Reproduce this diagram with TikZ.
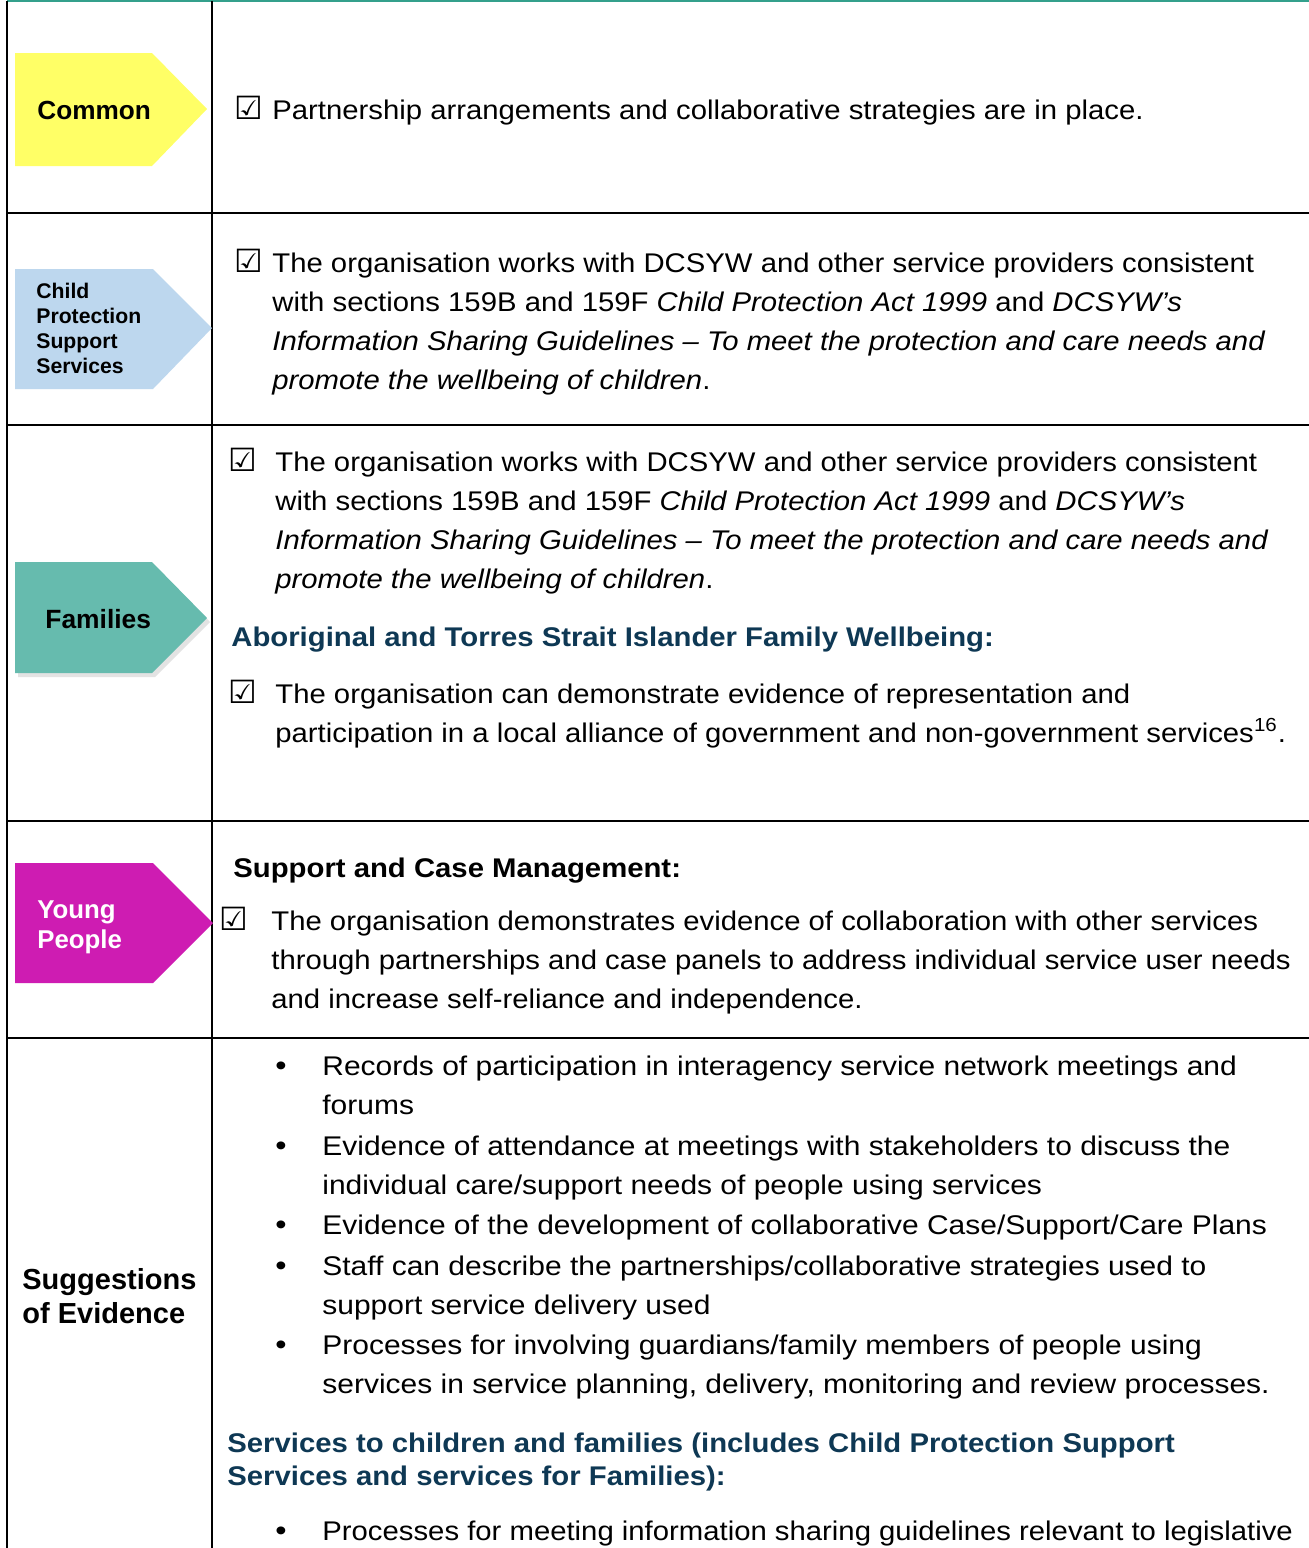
\documentclass[tikz,border=0pt]{standalone}
\usepackage{fontspec}
\setmainfont{Liberation Sans}
\newfontfamily\rowfont{Liberation Sans}[FakeStretch=1.085]
\newfontfamily\evfont{Liberation Sans}[FakeStretch=1.11]
\newfontfamily\boxfont{DejaVu Sans}
\usetikzlibrary{shadows}

\definecolor{cmnyellow}{RGB}{255,255,102}
\definecolor{cpsblue}{RGB}{189,215,238}
\definecolor{famteal}{RGB}{102,187,174}
\definecolor{ypmagenta}{RGB}{206,28,178}
\definecolor{headblue}{RGB}{14,56,84}
\definecolor{topteal}{RGB}{52,160,140}

\tikzset{
  rowtxt/.style={anchor=base west, inner sep=0pt, font=\rowfont\fontsize{13.5pt}{19.5pt}\selectfont},
  evtxt/.style={anchor=base west, inner sep=0pt, font=\evfont\fontsize{13.5pt}{19.5pt}\selectfont},
  headtxt/.style={anchor=base west, inner sep=0pt, font=\rowfont\fontsize{13.5pt}{19.5pt}\selectfont\bfseries},
  tabtxt/.style={anchor=base west, inner sep=0pt, align=left},
  tickbox/.style={anchor=base west, inner sep=0pt, font=\boxfont\fontsize{16pt}{16pt}\selectfont},
  dotmark/.style={anchor=base west, inner sep=0pt, font=\evfont\fontsize{14.5pt}{19.5pt}\selectfont},
  gridline/.style={line width=1pt, black}
}

\begin{document}
\begin{tikzpicture}[x=0.5pt,y=0.5pt,yscale=-1]
\useasboundingbox (0,0) rectangle (1309,1548);
\fill [white] (0,0) rectangle (1309,1548);

%Straight Lines: table frame
\draw [line width=1pt, topteal] (7,1) -- (1309,1);
\draw [gridline] (7,1) -- (7,1548);
\draw [gridline] (212,1) -- (212,1548);
\draw [gridline] (7,213) -- (1309,213);
\draw [gridline] (7,425) -- (1309,425);
\draw [gridline] (7,821) -- (1309,821);
\draw [gridline] (7,1038) -- (1309,1038);

%Shape: Pentagon arrows
\fill [cmnyellow] (15,53) -- (152,53) -- (207,109) -- (152,166) -- (15,166) -- cycle;
\fill [cpsblue] (15,269) -- (153,269) -- (212,328) -- (153,389) -- (15,389) -- cycle;
\fill [famteal, drop shadow={opacity=0.22, shadow xshift=1.5pt, shadow yshift=-2pt}] (15,562) -- (152,562) -- (207,618) -- (152,673) -- (15,673) -- cycle;
\fill [ypmagenta] (15,863) -- (153,863) -- (213,923) -- (153,983) -- (15,983) -- cycle;

% Text Node
\draw (37,119) node (common) [tabtxt, font=\fontsize{13.1pt}{15pt}\selectfont\bfseries] {Common};
% Text Node
\draw (36,373) node (cps) [tabtxt, font=\fontsize{10.6pt}{12.35pt}\selectfont\bfseries] {Child\\Protection\\Support\\Services};
% Text Node
\draw (45,628) node (families) [tabtxt, font=\fontsize{13.2pt}{15pt}\selectfont\bfseries] {Families};
% Text Node
\draw (37,948) node (young) [tabtxt, text=white, font=\fontsize{12.9pt}{15pt}\selectfont\bfseries] {Young\\People};
% Text Node
\draw (22,1323) node (sugg) [tabtxt, font=\fontsize{14.5pt}{17pt}\selectfont\bfseries] {Suggestions\\of Evidence};

% Text Node: common row
\draw (234,119) node (tickA) [tickbox] {☑};
\draw (272,119) node (partner) [rowtxt] {Partnership arrangements and collaborative strategies are in place.};

% Text Node: child protection row
\draw (234,272) node (tickB) [tickbox] {☑};
\draw (272,272) node (cpsA) [rowtxt] {The organisation works with DCSYW and other service providers consistent};
\draw (272,311) node (cpsB) [rowtxt] {with sections 159B and 159F \textit{Child Protection Act 1999} and \textit{DCSYW’s}};
\draw (272,350) node (cpsC) [rowtxt] {\textit{Information Sharing Guidelines – To meet the protection and care needs and}};
\draw (272,389) node (cpsD) [rowtxt] {\textit{promote the wellbeing of children}.};

% Text Node: families row
\draw (228,471) node (tickC) [tickbox] {☑};
\draw (275,471) node (famA) [rowtxt] {The organisation works with DCSYW and other service providers consistent};
\draw (275,510) node (famB) [rowtxt] {with sections 159B and 159F \textit{Child Protection Act 1999} and \textit{DCSYW’s}};
\draw (275,549) node (famC) [rowtxt] {\textit{Information Sharing Guidelines – To meet the protection and care needs and}};
\draw (275,588) node (famD) [rowtxt] {\textit{promote the wellbeing of children}.};
\draw (231,646) node (atsi) [headtxt, text=headblue] {Aboriginal and Torres Strait Islander Family Wellbeing:};
\draw (228,703) node (tickD) [tickbox] {☑};
\draw (275,703) node (famE) [rowtxt] {The organisation can demonstrate evidence of representation and};
\draw (275,742) node (famF) [rowtxt] {participation in a local alliance of government and non-government services\textsuperscript{16}.};

% Text Node: young people row
\draw (233,877) node (scm) [headtxt] {Support and Case Management:};
\draw (219,930) node (tickE) [tickbox] {☑};
\draw (271,930) node (ypA) [rowtxt] {The organisation demonstrates evidence of collaboration with other services};
\draw (271,969) node (ypB) [rowtxt] {through partnerships and case panels to address individual service user needs};
\draw (271,1008) node (ypC) [rowtxt] {and increase self-reliance and independence.};

% Text Node: suggestions of evidence
\foreach \yb in {1075,1155,1234,1275,1354,1540}
  \draw (275,\yb) node [dotmark] {\textbullet};
\draw (322,1075) node (evA) [evtxt] {Records of participation in interagency service network meetings and};
\draw (322,1114) node (evB) [evtxt] {forums};
\draw (322,1155) node (evC) [evtxt] {Evidence of attendance at meetings with stakeholders to discuss the};
\draw (322,1194) node (evD) [evtxt] {individual care/support needs of people using services};
\draw (322,1234) node (evE) [evtxt] {Evidence of the development of collaborative Case/Support/Care Plans};
\draw (322,1275) node (evF) [evtxt] {Staff can describe the partnerships/collaborative strategies used to};
\draw (322,1314) node (evG) [evtxt] {support service delivery used};
\draw (322,1354) node (evH) [evtxt] {Processes for involving guardians/family members of people using};
\draw (322,1393) node (evI) [evtxt] {services in service planning, delivery, monitoring and review processes.};
\draw (227,1452) node (svc) [headtxt, text=headblue] {Services to children and families (includes Child Protection Support};
\draw (227,1485) node (svcB) [headtxt, text=headblue] {Services and services for Families):};
\draw (322,1540) node (evJ) [rowtxt] {Processes for meeting information sharing guidelines relevant to legislative};

\end{tikzpicture}
\end{document}
